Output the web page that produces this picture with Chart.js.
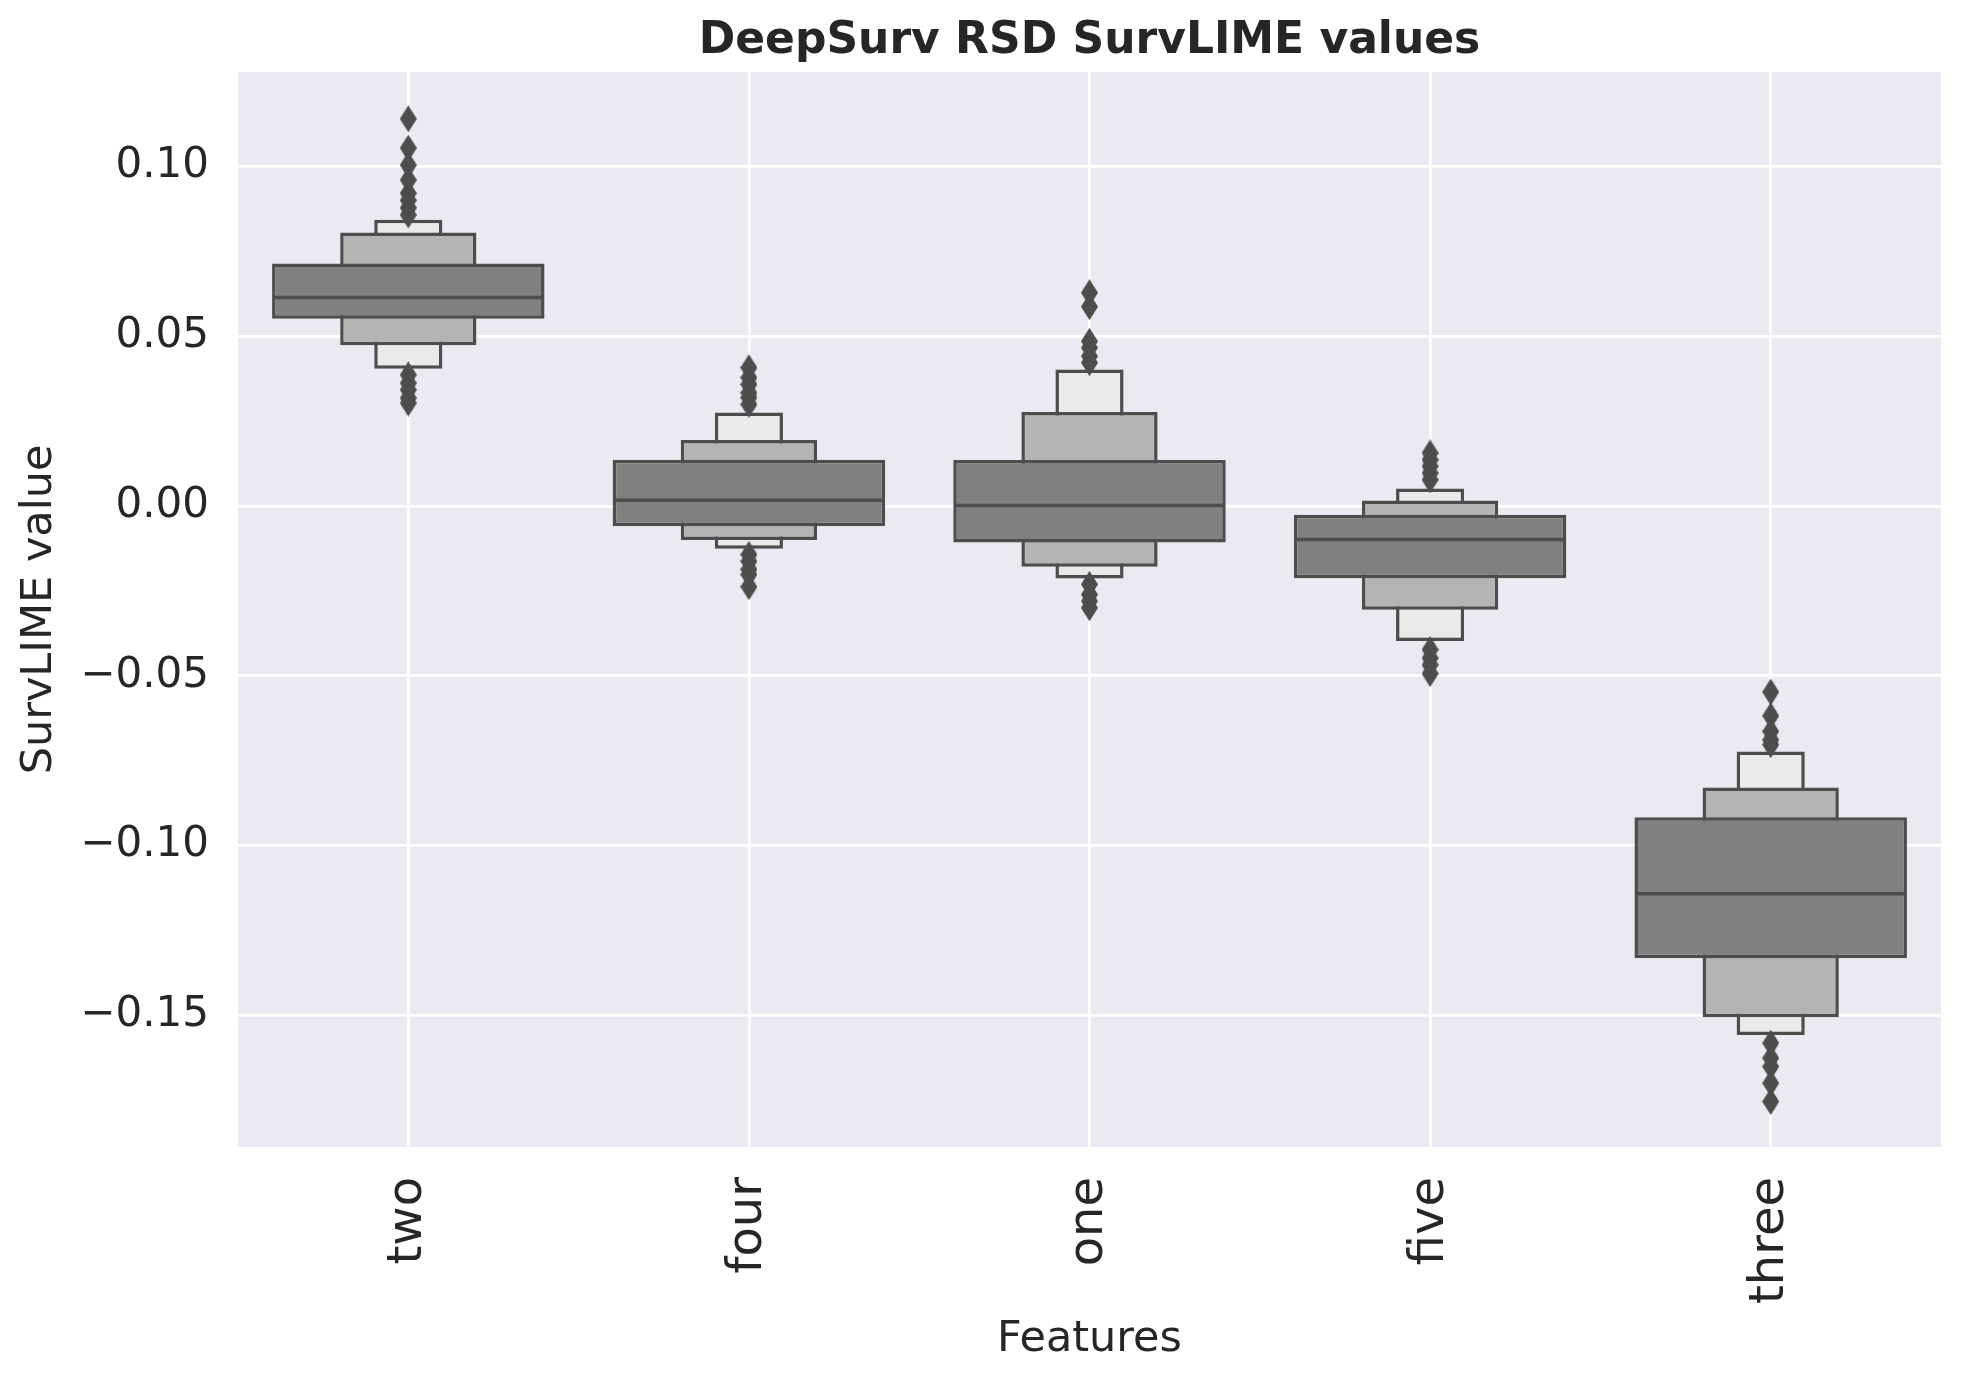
<!DOCTYPE html>
<html>
<head>
<meta charset="utf-8">
<script src="https://cdn.jsdelivr.net/npm/chart.js@4.4.1/dist/chart.umd.min.js"></script>
<style>
  html, body { margin: 0; padding: 0; background: #fff; }
  #wrap { width: 1961px; height: 1381px; position: relative; }
</style>
</head>
<body>
<div id="wrap"><canvas id="chart"></canvas></div>
<script>
// letter-value (boxen) plot
const categories = ['two', 'four', 'one', 'five', 'three'];
const medians    = [0.0614, 0.0017, 0.0001, -0.0099, -0.1142];

// level 1 = inner 50% box, level 2 / 3 = next letter values
const level1Low  = [0.0551, -0.0060, -0.0108, -0.0213, -0.1332];
const level1High = [0.0714,  0.0136,  0.0135, -0.0026, -0.0917];
const level2Low  = [0.0473, -0.0100, -0.0179, -0.0306, -0.1506];
const level2High = [0.0805,  0.0194,  0.0277,  0.0016, -0.0829];
const level3Low  = [0.0404, -0.0126, -0.0214, -0.0398, -0.1558];
const level3High = [0.0843,  0.0275,  0.0402,  0.0051, -0.0723];

const outliersTwo   = [0.1140, 0.1054, 0.1004, 0.0960, 0.0921, 0.0900, 0.0878, 0.0857, 0.0386, 0.0362, 0.0342, 0.0318, 0.0303];
const outliersFour  = [0.0407, 0.0378, 0.0358, 0.0333, 0.0319, 0.0299, -0.0143, -0.0163, -0.0187, -0.0202, -0.0238];
const outliersOne   = [0.0628, 0.0587, 0.0485, 0.0466, 0.0441, 0.0422, -0.0231, -0.0261, -0.0280, -0.0300];
const outliersFive  = [0.0156, 0.0136, 0.0117, 0.0097, 0.0077, -0.0423, -0.0448, -0.0468, -0.0494];
const outliersThree = [-0.0548, -0.0618, -0.0664, -0.0689, -0.0703, -0.1582, -0.1626, -0.1651, -0.1700, -0.1754];

const yTicks = [0.10, 0.05, 0.00, -0.05, -0.10, -0.15];
const yMin = -0.1888;
const yMax = 0.1278;

const FONT = "'DejaVu Sans', sans-serif";
const TEXT = '#262626';
const EDGE = '#4d4d4d';

const pairs = (lo, hi) => lo.map((v, i) => [v, hi[i]]);

const outlierPoints = [];
[outliersTwo, outliersFour, outliersOne, outliersFive, outliersThree].forEach((list, i) => {
    list.forEach(v => outlierPoints.push({ x: categories[i], y: v }));
});

// matplotlib 'd' thin diamond as a point image
function thinDiamond(w, h, color) {
    const c = document.createElement('canvas');
    c.width = w;
    c.height = h;
    const g = c.getContext('2d');
    g.fillStyle = color;
    g.beginPath();
    g.moveTo(w / 2, 0);
    g.lineTo(w, h / 2);
    g.lineTo(w / 2, h);
    g.lineTo(0, h / 2);
    g.closePath();
    g.fill();
    return c;
}
const diamond = thinDiamond(17, 27, EDGE);

const plotBackground = {
    id: 'plotBackground',
    beforeDraw(chart) {
        const { ctx, chartArea: a } = chart;
        ctx.save();
        ctx.fillStyle = '#eaeaf2';
        ctx.fillRect(a.left, a.top, a.right - a.left, a.bottom - a.top);
        ctx.restore();
    }
};

// title centred on the plot area, like matplotlib
const axesTitle = {
    id: 'axesTitle',
    afterDraw(chart) {
        const { ctx, chartArea: a } = chart;
        ctx.save();
        ctx.font = 'bold 44px ' + FONT;
        ctx.fillStyle = TEXT;
        ctx.textAlign = 'center';
        ctx.textBaseline = 'alphabetic';
        ctx.fillText('DeepSurv RSD SurvLIME values', (a.left + a.right) / 2, 53);
        ctx.restore();
    }
};

const boxBar = (data, color, pct) => ({
    type: 'bar',
    data: data,
    backgroundColor: color,
    borderColor: EDGE,
    borderWidth: 3.5,
    borderSkipped: false,
    grouped: false,
    barPercentage: pct,
    categoryPercentage: 1.0
});

const halfBox = ctx => ctx.chart.scales.x.width / categories.length * 0.4 - 2;

new Chart(document.getElementById('chart'), {
    type: 'bar',
    data: {
        labels: categories,
        datasets: [
            {
                type: 'line',
                data: outlierPoints,
                showLine: false,
                pointStyle: diamond,
                order: 0
            },
            {
                type: 'line',
                data: medians,
                showLine: false,
                pointStyle: 'line',
                pointRadius: halfBox,
                pointBorderWidth: 3.5,
                pointBorderColor: EDGE,
                borderColor: EDGE,
                order: 1
            },
            Object.assign(boxBar(pairs(level1Low, level1High), '#808080', 0.8), { order: 2 }),
            Object.assign(boxBar(pairs(level2Low, level2High), '#b4b4b4', 0.4), { order: 3 }),
            Object.assign(boxBar(pairs(level3Low, level3High), '#eaeaea', 0.2), { order: 4 })
        ]
    },
    options: {
        responsive: true,
        maintainAspectRatio: false,
        animation: false,
        events: [],
        layout: { padding: { left: 0, right: 20, top: 72, bottom: 0 } },
        scales: {
            x: {
                grid: { color: '#ffffff', lineWidth: 2.8, offset: false, drawTicks: false },
                border: { display: false },
                ticks: {
                    color: TEXT,
                    font: { family: FONT, size: 48 },
                    minRotation: 90,
                    maxRotation: 90,
                    autoSkip: false,
                    padding: 30
                },
                title: {
                    display: true,
                    text: 'Features',
                    color: TEXT,
                    font: { family: FONT, size: 43 },
                    padding: { top: 0, bottom: 15 }
                },
                afterFit(scale) { scale.height = 234; }
            },
            y: {
                min: yMin,
                max: yMax,
                grid: { color: '#ffffff', lineWidth: 2.8, drawTicks: false },
                border: { display: false },
                afterBuildTicks(scale) { scale.ticks = yTicks.map(v => ({ value: v })); },
                ticks: {
                    color: TEXT,
                    font: { family: FONT, size: 42 },
                    padding: 29,
                    callback: v => v.toFixed(2).replace('-', '\u2212')
                },
                title: {
                    display: true,
                    text: 'SurvLIME value',
                    color: TEXT,
                    font: { family: FONT, size: 43 },
                    padding: { top: 14, bottom: 0 }
                },
                afterFit(scale) { scale.width = 238; }
            }
        },
        plugins: {
            legend: { display: false },
            tooltip: { enabled: false },
            title: { display: false }
        }
    },
    plugins: [plotBackground, axesTitle]
});
</script>
</body>
</html>
